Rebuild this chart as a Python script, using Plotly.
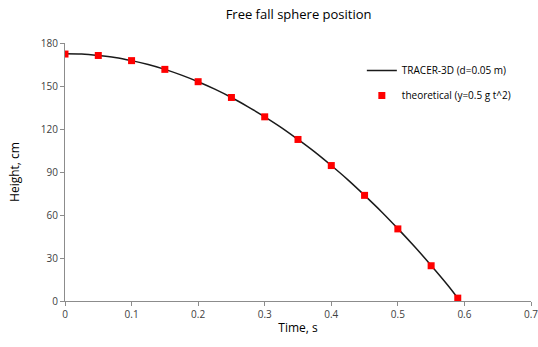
import plotly.graph_objects as go

# Data
tracer_t = [0, 0.025, 0.05, 0.075, 0.1, 0.125, 0.15, 0.175, 0.2, 0.225, 0.25, 0.275,
            0.3, 0.325, 0.35, 0.375, 0.4, 0.425, 0.45, 0.475, 0.5, 0.525, 0.55, 0.575, 0.59]
tracer_h = [172.5, 172.3, 171.3, 169.9, 167.7, 165.0, 161.6, 157.6, 153.0, 147.8, 142.0, 135.5,
            128.5, 121.0, 112.7, 104.0, 94.5, 84.5, 73.7, 62.5, 50.5, 38.0, 24.8, 11.0, 2.0]
theo_t = [0, 0.05, 0.1, 0.15, 0.2, 0.25, 0.3, 0.35, 0.4, 0.45, 0.5, 0.55, 0.59]
theo_h = [172.3, 171.3, 167.7, 161.6, 153.0, 142.0, 128.5, 112.7, 94.5, 73.7, 50.3, 24.6, 2.0]
x_ticks = [0, 0.1, 0.2, 0.3, 0.4, 0.5, 0.6, 0.7]
y_ticks = [0, 30, 60, 90, 120, 150, 180]

font = "Open Sans"
fig = go.Figure()
fig.add_trace(go.Scatter(x=tracer_t, y=tracer_h, mode="lines", name="TRACER-3D (d=0.05 m)",
                         legendgroup="a",
                         line=dict(color="#1a1a1a", width=1.5, shape="spline")))
fig.add_trace(go.Scatter(x=theo_t, y=theo_h, mode="markers", name="theoretical (y=0.5 g t^2)",
                         legendgroup="b",
                         marker=dict(color="#ff0000", size=7, symbol="square")))

axis_common = dict(showgrid=False, zeroline=False, showline=True, linecolor="#8c8c8c",
                   linewidth=1, ticks="outside", tickcolor="#8c8c8c", ticklen=4,
                   ticklabeloverflow="allow", automargin=False,
                   tickfont=dict(family=font, size=10, color="#404040"))
fig.update_layout(
    width=538, height=347,
    margin=dict(l=65, r=7, t=43, b=46),
    paper_bgcolor="white", plot_bgcolor="white",
    title=dict(text="Free fall sphere position", x=0.555, xanchor="center", y=0.958,
               yanchor="middle", font=dict(family=font, size=13, color="#000000")),
    xaxis=dict(range=[0, 0.7], tickvals=x_ticks, ticktext=[str(v) for v in x_ticks],
               title=dict(text="Time, s", font=dict(family=font, size=12, color="#000"), standoff=3),
               **axis_common),
    yaxis=dict(range=[0, 180], tickvals=y_ticks,
               title=dict(text="Height, cm", font=dict(family=font, size=12, color="#000"), standoff=18),
               **axis_common),
    legend=dict(x=0.637, y=0.95, xanchor="left", yanchor="top", bgcolor="rgba(0,0,0,0)",
                font=dict(family=font, size=10, color="#000"), tracegroupgap=6,
                traceorder="grouped", itemwidth=30),
    showlegend=True,
)
fig.write_html("out.html")
